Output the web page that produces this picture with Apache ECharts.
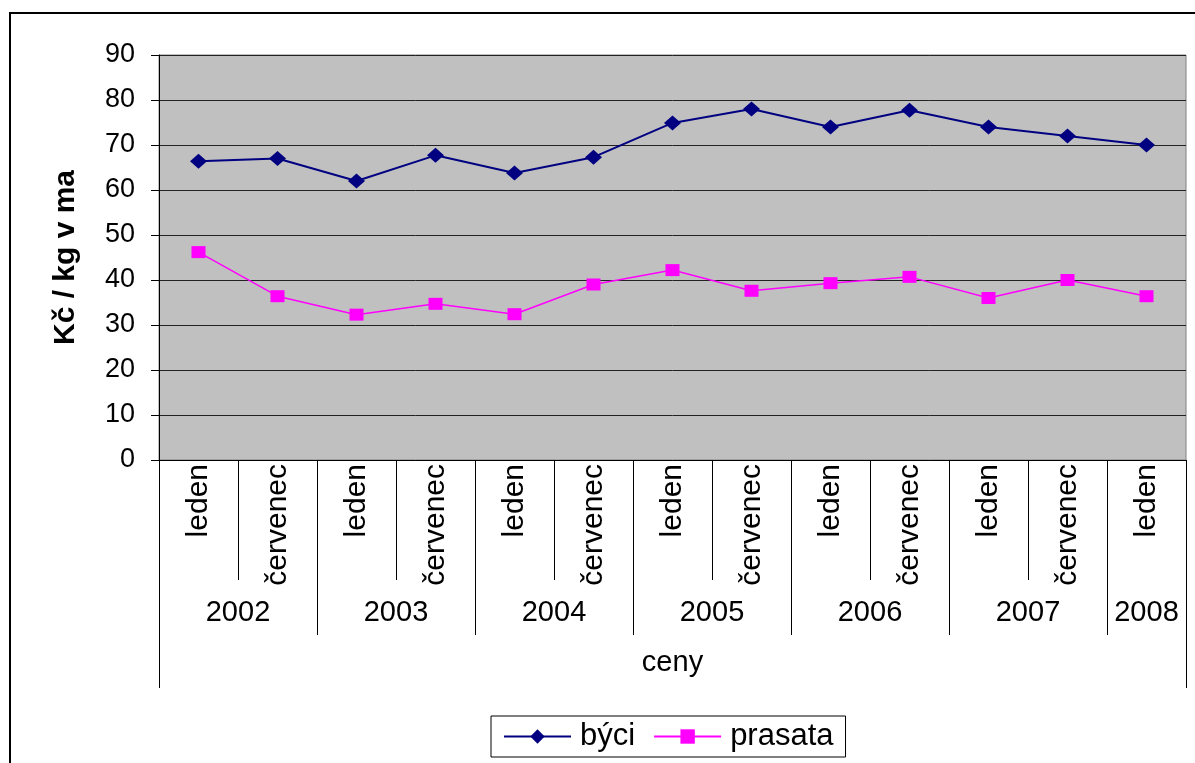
<!DOCTYPE html>
<html>
<head>
<meta charset="utf-8">
<script src="https://cdn.jsdelivr.net/npm/echarts@6/dist/echarts.min.js"></script>
<style>
html,body{margin:0;padding:0;background:#fff;}
#c{width:1195px;height:763px;}
</style>
</head>
<body>
<div id="c"></div>
<script>
// ---- data ----
var months = ['leden','červenec','leden','červenec','leden','červenec','leden','červenec','leden','červenec','leden','červenec','leden'];
var years = ['2002','2003','2004','2005','2006','2007','2008'];
var yearSpans = [2,2,2,2,2,2,1];
var byci = [66.4, 67.0, 62.0, 67.7, 63.8, 67.3, 74.9, 78.0, 74.0, 77.7, 74.0, 72.0, 70.0];
var prasata = [46.2, 36.4, 32.3, 34.7, 32.4, 39.0, 42.2, 37.6, 39.3, 40.7, 36.0, 40.0, 36.4];
var yTicks = {min: 0, max: 90, interval: 10};
var seriesNames = ['býci', 'prasata'];
var yTitle = 'Kč / kg v ma';
var xTitle = 'ceny';

// ---- build half-unit year axis ----
var halfCount = months.length * 2 + 1;
var halfData = [];
for (var i = 0; i < halfCount; i++) halfData.push('h' + i);
var yearLabelAt = {};
var yearTickAt = {0: true};
var pos = 0;
for (var k = 0; k < years.length; k++) {
  yearLabelAt[pos + yearSpans[k]] = years[k];
  pos += yearSpans[k] * 2;
  yearTickAt[pos] = true;
}

var FONT = 'Arial, "Liberation Sans", sans-serif';
var chart = echarts.init(document.getElementById('c'));
chart.setOption({
  animation: false,
  backgroundColor: '#fff',
  graphic: [{
    type: 'rect', z: -10,
    shape: {x: 10, y: 13, width: 1200, height: 800},
    style: {fill: 'none', stroke: '#000', lineWidth: 2}
  }],
  grid: {
    left: 159, top: 55, width: 1027, height: 405,
    show: true, backgroundColor: '#C0C0C0', borderColor: '#808080', borderWidth: 1,
    containLabel: false, outerBoundsMode: 'none'
  },
  legend: {
    data: seriesNames,
    left: 491, top: 716,
    orient: 'horizontal',
    padding: [5, 12, 5, 12],
    itemGap: 18,
    itemWidth: 67, itemHeight: 18,
    borderColor: '#000', borderWidth: 1,
    textStyle: {fontFamily: FONT, fontSize: 31, color: '#000', padding: [0, 0, 0, 4]}
  },
  xAxis: [{
    type: 'category',
    data: months,
    boundaryGap: true,
    axisLine: {show: true, lineStyle: {color: '#000', width: 1}},
    axisTick: {show: true, length: 120, lineStyle: {color: '#000', width: 1}},
    axisLabel: {rotate: 90, margin: 4, interval: 0, fontFamily: FONT, fontSize: 30, color: '#000'},
    splitLine: {show: false}
  }, {
    type: 'category',
    data: halfData,
    boundaryGap: false,
    position: 'bottom',
    axisLine: {show: false},
    axisTick: {show: true, length: 175, interval: function (idx) { return !!yearTickAt[idx]; }, lineStyle: {color: '#000', width: 1}},
    axisLabel: {
      show: true, margin: 138, fontFamily: FONT, fontSize: 29, color: '#000',
      interval: function (idx) { return yearLabelAt[idx] !== undefined; },
      formatter: function (v, idx) { return yearLabelAt[idx] || ''; }
    },
    splitLine: {show: false}
  }, {
    type: 'category',
    data: ['a', 'b'],
    boundaryGap: false,
    position: 'bottom',
    axisLine: {show: false},
    axisTick: {show: true, length: 228, interval: 0, lineStyle: {color: '#000', width: 1}},
    axisLabel: {show: false},
    name: xTitle,
    nameLocation: 'middle',
    nameGap: 188,
    nameTextStyle: {fontFamily: FONT, fontSize: 29, color: '#000'},
    splitLine: {show: false}
  }],
  yAxis: {
    type: 'value',
    min: yTicks.min, max: yTicks.max, interval: yTicks.interval,
    axisLine: {show: true, lineStyle: {color: '#000', width: 1}},
    axisTick: {show: true, length: 8, inside: false, lineStyle: {color: '#000'}},
    axisLabel: {margin: 24, fontFamily: FONT, fontSize: 27, color: '#000'},
    splitLine: {show: true, lineStyle: {color: '#222', width: 1}},
    name: yTitle,
    nameLocation: 'middle',
    nameGap: 78,
    nameRotate: 90,
    nameTextStyle: {fontFamily: FONT, fontSize: 30, fontWeight: 'bold', color: '#000'}
  },
  series: [{
    name: seriesNames[0],
    type: 'line',
    data: byci,
    symbol: 'diamond',
    symbolSize: [17, 15],
    itemStyle: {color: '#000080'},
    lineStyle: {color: '#000080', width: 2}
  }, {
    name: seriesNames[1],
    type: 'line',
    data: prasata,
    symbol: 'rect',
    symbolSize: [14, 12],
    itemStyle: {color: '#FF00FF'},
    lineStyle: {color: '#FF00FF', width: 1.5}
  }]
});
</script>
</body>
</html>
